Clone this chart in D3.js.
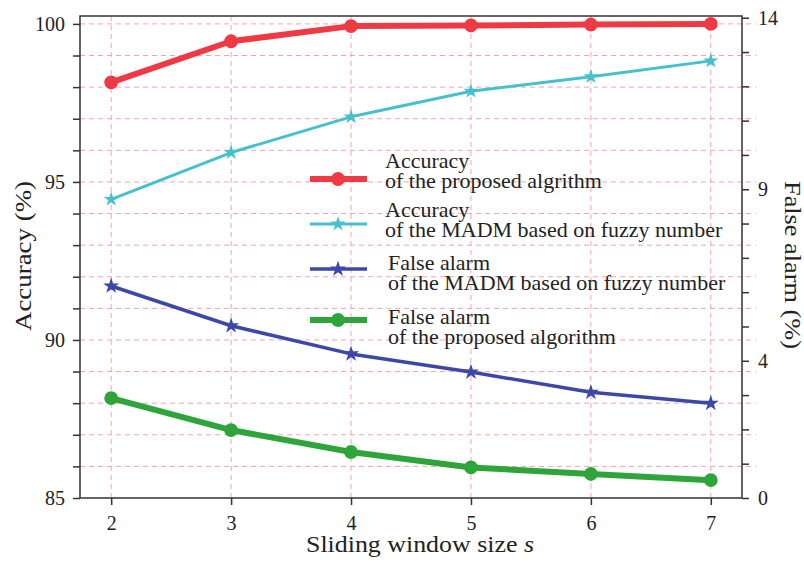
<!DOCTYPE html>
<html>
<head>
<meta charset="utf-8">
<script src="https://cdn.jsdelivr.net/npm/d3@7"></script>
<style>
  body { margin: 0; background: #fff; }
  text { font-family: "Liberation Serif", "Times New Roman", serif; fill: #222; }
</style>
</head>
<body>
<div id="chart"></div>
<script>
const windowSizes = [2, 3, 4, 5, 6, 7];
const accProposed = [98.15, 99.45, 99.93, 99.95, 99.98, 100.0];
const accMadm = [94.45, 95.93, 97.06, 97.87, 98.33, 98.83];
const faMadm = [6.18, 5.02, 4.2, 3.67, 3.08, 2.76];
const faProposed = [2.91, 1.98, 1.34, 0.89, 0.7, 0.52];
const leftTicks = [85, 90, 95, 100];
const rightTicks = [0, 4, 9, 14];

const width = 804, height = 566;
const plotL = 80, plotR = 742, plotT = 16, plotB = 498;
const serif = '"Liberation Serif", "Times New Roman", serif';

const svg = d3.select("#chart").append("svg")
    .attr("width", width)
    .attr("height", height);

const x = d3.scaleLinear().domain([1.74, 7.26]).range([plotL, plotR]);
const yL = d3.scaleLinear().domain([85, 100.25]).range([plotB, plotT]);
const yR = d3.scaleLinear().domain([0, 14.05]).range([plotB, plotT]);

// grid
const grid = svg.append("g")
    .attr("stroke", "#f5a3ab")
    .attr("stroke-width", 1)
    .attr("stroke-dasharray", "5,4");
d3.range(86, 101).forEach(v => {
    grid.append("line")
        .attr("x1", plotL).attr("x2", plotR + 14)
        .attr("y1", yL(v)).attr("y2", yL(v));
});
windowSizes.forEach(v => {
    grid.append("line")
        .attr("x1", x(v)).attr("x2", x(v))
        .attr("y1", plotT).attr("y2", plotB);
});

// frame
svg.append("path")
    .attr("d", `M${plotL},${plotT}H${plotR}V${plotB}H${plotL}Z`)
    .attr("fill", "none")
    .attr("stroke", "#333")
    .attr("stroke-width", 1.5);

// axes
const axisL = svg.append("g")
    .attr("transform", `translate(${plotL},0)`)
    .call(d3.axisLeft(yL).tickValues(d3.range(85, 101)).tickSize(7)
        .tickFormat(d => leftTicks.includes(d) ? d : ""));
const axisR = svg.append("g")
    .attr("transform", `translate(${plotR},0)`)
    .call(d3.axisRight(yR).tickValues(d3.range(0, 15)).tickSize(7)
        .tickFormat(d => rightTicks.includes(d) ? d : ""));
const axisB = svg.append("g")
    .attr("transform", `translate(0,${plotB})`)
    .call(d3.axisBottom(x).tickValues(windowSizes).tickSize(7).tickFormat(d3.format("d")));

[axisL, axisR, axisB].forEach(a => {
    a.attr("font-family", null).attr("font-size", null);
    a.select(".domain").remove();
    a.selectAll(".tick line").attr("stroke", "#333").attr("stroke-width", 1.5);
    a.selectAll("text")
        .style("font-family", serif)
        .style("font-size", "20px")
        .style("fill", "#222");
});
axisL.selectAll("text").attr("x", -15);
axisR.selectAll("text").attr("x", 16);
axisB.selectAll("text").attr("y", 18);

// series
const series = [
    { name: ["Accuracy", "of the proposed algrithm"], values: accProposed, y: yL, color: "#ee3a45", width: 6, marker: "circle", size: 150 },
    { name: ["Accuracy", "of the MADM based on fuzzy number"], values: accMadm, y: yL, color: "#46c0cc", width: 3, marker: "star", size: 70 },
    { name: ["False alarm", "of the MADM based on fuzzy number"], values: faMadm, y: yR, color: "#3c47a8", width: 3.5, marker: "star", size: 80 },
    { name: ["False alarm", "of the proposed algorithm"], values: faProposed, y: yR, color: "#2ea53a", width: 6, marker: "circle", size: 150 }
];

series.forEach(s => {
    const pts = windowSizes.map((w, i) => [x(w), s.y(s.values[i])]);
    svg.append("path")
        .attr("d", d3.line()(pts))
        .attr("fill", "none")
        .attr("stroke", s.color)
        .attr("stroke-width", s.width)
        .attr("stroke-linejoin", "round");
    const sym = d3.symbol().type(s.marker === "circle" ? d3.symbolCircle : d3.symbolStar).size(s.size);
    pts.forEach(p => {
        svg.append("path")
            .attr("d", sym())
            .attr("transform", `translate(${p[0]},${p[1]})`)
            .attr("fill", s.color);
    });
});

// legend (symbol rows and text rows are not aligned the same way in the original)
const legendY = [179, 224, 269, 320];
const legendTextY = [168, 217, 270, 324];
series.forEach((s, i) => {
    const g = svg.append("g").attr("transform", `translate(310,${legendY[i]})`);
    g.append("line")
        .attr("x1", 0).attr("x2", 57)
        .attr("stroke", s.color)
        .attr("stroke-width", s.width);
    const sym = d3.symbol().type(s.marker === "circle" ? d3.symbolCircle : d3.symbolStar).size(s.size);
    g.append("path").attr("d", sym()).attr("transform", "translate(28,0)").attr("fill", s.color);
    const tx = i < 2 ? 385 : 388;
    const t = svg.append("text").attr("y", legendTextY[i]).style("font-size", "22px");
    t.append("tspan").attr("x", tx).text(s.name[0]);
    t.append("tspan").attr("x", tx).attr("dy", 19.5).text(s.name[1]);
});

// axis titles
svg.append("text")
    .attr("transform", `translate(31,256) rotate(-90)`)
    .attr("text-anchor", "middle")
    .attr("textLength", 150)
    .attr("lengthAdjust", "spacingAndGlyphs")
    .style("font-size", "23px")
    .text("Accuracy (%)");
svg.append("text")
    .attr("transform", `translate(785,265) rotate(90)`)
    .attr("text-anchor", "middle")
    .attr("textLength", 168)
    .attr("lengthAdjust", "spacingAndGlyphs")
    .style("font-size", "23px")
    .text("False alarm (%)");
const xt = svg.append("text")
    .attr("x", 420).attr("y", 552)
    .attr("text-anchor", "middle")
    .attr("textLength", 228)
    .attr("lengthAdjust", "spacingAndGlyphs")
    .style("font-size", "23px");
xt.append("tspan").text("Sliding window size ");
xt.append("tspan").attr("font-style", "italic").text("s");
</script>
</body>
</html>
